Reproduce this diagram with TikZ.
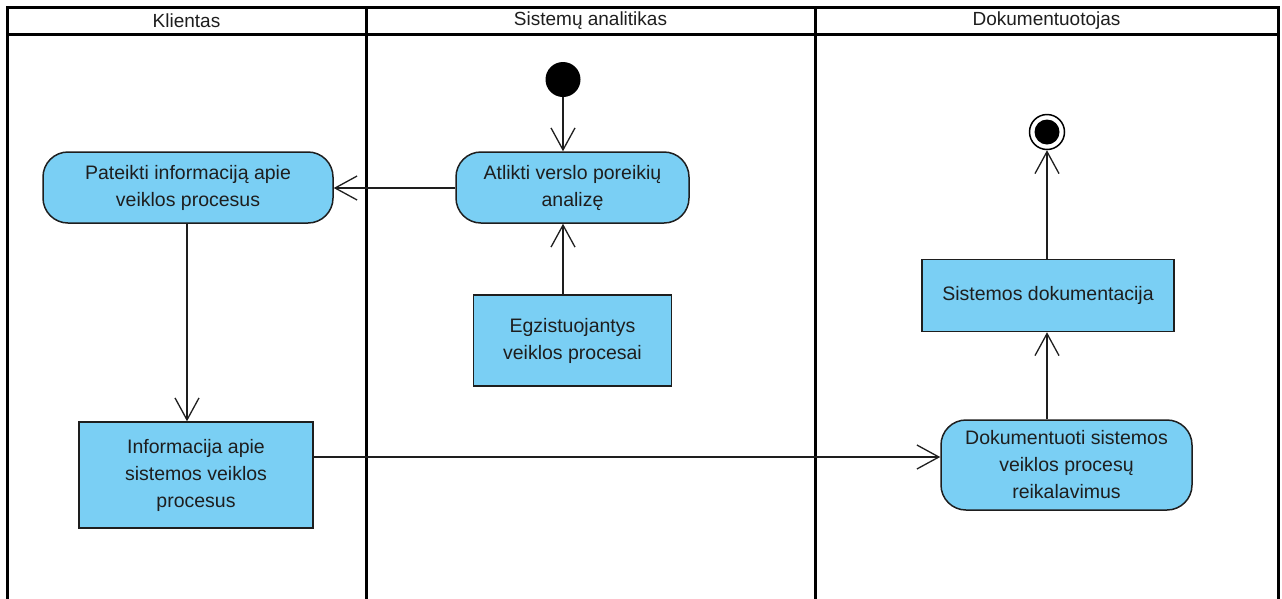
\documentclass[tikz,border=0pt]{standalone}
\usepackage{fontspec}
\setmainfont{Liberation Sans}
\usetikzlibrary{arrows.meta}
\definecolor{actfill}{RGB}{122,207,244}
\definecolor{inkgray}{RGB}{30,30,30}
\tikzset{
  lane/.style={line width=3pt, black},
  lanehead/.style={font=\fontsize{19}{22}\selectfont, text=inkgray, anchor=center},
  action/.style={draw=inkgray, line width=1.5pt, fill=actfill, rounded corners=25pt,
    align=center, inner sep=0pt, text=inkgray, font=\fontsize{19.5}{27}\selectfont},
  objbox/.style={draw=inkgray, line width=1.5pt, fill=actfill,
    align=center, inner sep=0pt, text=inkgray, font=\fontsize{19.5}{27}\selectfont},
  flow/.style={line width=1.3pt, inkgray, -{Straight Barb[length=22pt,width=24pt,line width=1.3pt]}},
}
\begin{document}
\begin{tikzpicture}[x=1pt,y=-1pt]
\useasboundingbox (0,0) rectangle (1282,598);
\fill[white] (0,0) rectangle (1282,598);

% swimlane frame
\draw[lane] (7,600) -- (7,7) -- (1278,7) -- (1278,600);
\draw[lane] (7,34) -- (1278,34);
\draw[lane] (366,7) -- (366,600);
\draw[lane] (815,7) -- (815,600);
\node[lanehead] (h1) at (186.5,21) {Klientas};
\node[lanehead] (h2) at (590.5,21) {Sistemų analitikas};
\node[lanehead] (h3) at (1046.5,21) {Dokumentuotojas};

% initial and final nodes
\node[circle, fill=black, minimum size=35pt, inner sep=0pt] (start) at (563,79.5) {};
\node[circle, draw=black, line width=1.5pt, fill=white, minimum size=35pt, inner sep=0pt] (end) at (1047,132) {};
\fill[black] (end.center) circle (12.5pt);

% actions
\node[action, minimum width=290pt, minimum height=71pt] (pateikti) at (188,187.5)
  {Pateikti informaciją apie\\veiklos procesus};
\node[action, minimum width=233pt, minimum height=71pt] (atlikti) at (572.5,187.5)
  {Atlikti verslo poreikių\\analizę};
\node[action, minimum width=251pt, minimum height=90pt] (dokumentuoti) at (1066.5,465)
  {Dokumentuoti sistemos\\veiklos procesų\\reikalavimus};

% objects
\node[objbox, minimum width=198pt, minimum height=91pt] (egzist) at (572.5,340.5)
  {Egzistuojantys\\veiklos procesai};
\node[objbox, minimum width=234pt, minimum height=106pt] (info) at (196,475)
  {Informacija apie\\sistemos veiklos\\procesus};
\node[objbox, minimum width=252pt, minimum height=72pt] (doku) at (1048,295.5)
  {Sistemos dokumentacija};

% control and object flows
\draw[flow] (start) -- (start |- atlikti.north);
\draw[flow] (atlikti.west |- 0,188) -- (pateikti.east |- 0,188);
\draw[flow] (egzist.north -| 563,0) -- (atlikti.south -| 563,0);
\draw[flow] (pateikti.south -| 187,0) -- (info.north -| 187,0);
\draw[flow] (info.east |- 0,457) -- (dokumentuoti.west |- 0,457);
\draw[flow] (dokumentuoti.north -| 1047,0) -- (doku.south -| 1047,0);
\draw[flow] (doku.north -| 1047,0) -- (end);
\end{tikzpicture}
\end{document}
